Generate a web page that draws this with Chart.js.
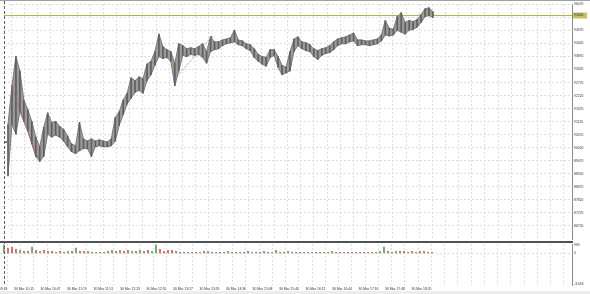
<!DOCTYPE html>
<html>
<head>
<meta charset="utf-8">
<script src="https://cdn.jsdelivr.net/npm/chart.js@4.4.1/dist/chart.umd.min.js"></script>
<style>
  html, body { margin: 0; padding: 0; background: #fff; }
  #wrap { position: relative; width: 590px; height: 294px; overflow: hidden; background: #fff; }
  #main { position: absolute; left: 0; top: 0; }
  #sub { position: absolute; left: 0; top: 243px; }
  #topline { position: absolute; left: 0; top: 0; width: 590px; height: 1px; background: #a0a0a0; }
  #sep { position: absolute; left: 0; top: 241px; width: 573px; height: 2px; background: #505050; }
  #shift { position: absolute; left: 4px; top: 1px; height: 283px; border-left: 1px dashed #606060; }
  #foot { position: absolute; left: 0; top: 291px; width: 590px; height: 3px; background: #ececec; }
</style>
</head>
<body>
<div id="wrap">
  <canvas id="main" width="590" height="243"></canvas>
  <canvas id="sub" width="590" height="51"></canvas>
  <div id="topline"></div>
  <div id="sep"></div>
  <div id="shift"></div>
  <div id="foot"></div>
</div>
<script>
// bar ranges (high / low), one entry per bar
const highs = [91000,92640,93870,93260,92030,91620,91130,90470,90060,90880,
  91490,91080,91130,90920,90800,90510,90180,90100,91080,90390,
  90300,90390,90300,90350,90300,90260,90390,91290,91540,92030,
  92320,92970,92850,93010,92930,93550,93670,94080,94820,94290,
  94160,94080,93590,94410,94330,94200,94240,94200,94290,94410,
  94080,94700,94490,94490,94570,94610,94660,94980,94570,94530,
  94410,94370,94200,93960,93870,93830,94160,94160,93870,93500,
  93420,94080,94610,94700,94490,94450,94370,94200,94120,94200,
  94240,94330,94490,94610,94660,94700,94780,94860,94570,94570,
  94530,94530,94570,94610,94780,95390,95070,95020,95560,95720,
  95310,95390,95350,95430,95640,95890,95930,95760];
const lows = [88830,91000,90590,91540,91130,90720,90180,89650,89440,89650,
  90590,90470,90550,90470,90300,90060,89850,89770,89890,89980,
  89980,89650,90060,90100,90060,90060,90100,90300,90960,91410,
  91860,92110,92360,92440,92320,92850,93100,93510,93870,93790,
  93830,93670,92640,93260,93920,93870,93960,93920,93960,93830,
  93590,94080,94160,94200,94330,94410,94450,94490,94370,94330,
  94200,94120,93830,93670,93550,93460,93830,93920,93420,93100,
  93180,93260,94080,94330,94200,94120,94080,93870,93750,93920,
  94000,94040,94160,94330,94410,94410,94490,94530,94330,94370,
  94370,94330,94370,94410,94530,94780,94740,94780,94980,94900,
  94820,94980,95020,95110,95310,95560,95600,95520];

// lower window values and direction (1 = up bar)
const volumes = [960,600,720,480,360,240,240,720,360,240,
  360,240,240,120,240,120,240,240,600,240,
  240,240,120,120,120,120,240,360,240,360,
  240,360,240,240,360,240,360,240,1000,480,
  240,360,360,240,120,120,120,120,120,120,
  240,240,120,120,120,120,240,120,120,120,
  120,240,120,120,120,240,120,120,360,120,
  120,240,120,120,120,120,120,120,120,120,
  120,120,240,120,120,120,120,120,120,120,
  120,120,120,120,240,720,240,120,240,240,
  240,120,240,120,240,240,120,120];
const volUp = [1,0,0,0,1,0,0,1,0,1,
  0,0,0,1,0,0,1,0,1,0,
  0,1,0,1,0,1,0,1,0,1,
  0,0,1,0,1,0,0,1,1,0,
  0,0,0,1,0,0,1,0,0,1,
  0,1,0,1,0,0,1,0,0,1,
  0,0,1,0,0,1,0,1,1,0,
  0,1,0,0,1,0,0,1,0,0,
  1,0,1,0,0,1,0,0,1,0,
  0,0,1,0,1,1,0,0,1,0,
  0,0,0,0,0,0,0,0];

// trades: [open bar, close bar], [open price, close price]
const tradeBars = [[2, 8.25], [43, 52.25]];
const tradePrices = [[92560, 89650], [92930, 94700]];
const lonePoint = [0.5, 90260];

const lastPrice = 95620;
const priceTicks = [96070,95520,94970,94420,93870,93320,92770,92220,91670,91120,90570,90020,89470,88920,88370,87820,87270,86720];
const subTicks = [969, 0, -3635];
const timeLabels = ['30 Mar 09:43','30 Mar 10:15','30 Mar 10:47','30 Mar 11:19','30 Mar 11:51','30 Mar 12:23','30 Mar 12:55','30 Mar 13:27','30 Mar 13:59','30 Mar 14:36','30 Mar 15:08','30 Mar 15:40','30 Mar 16:12','30 Mar 16:44','30 Mar 17:16','30 Mar 17:48','30 Mar 18:20'];

const FONT = 'Liberation Sans';
const GRID = '#dedede';

// vertical grid every half label step; labels on every other line
const gridTicks = [];
const gridLabels = [];
for (let m = -2; m <= 42; m++) {
  gridTicks.push(3.5 + 3.3125 * m);
  gridLabels.push(m % 2 === 0 && timeLabels[m / 2 + 1] ? timeLabels[m / 2 + 1] : '');
}

function xScale(showLabels) {
  return {
    type: 'linear', min: 0, max: 143, offset: false,
    afterBuildTicks: s => { s.ticks = gridTicks.map(v => ({ value: v })); },
    afterFit: s => { s.height = showLabels ? 9 : 0; s.paddingLeft = 0; s.paddingRight = 0; },
    grid: { color: GRID, lineWidth: 1, drawTicks: false },
    border: { display: false, dash: [2, 2] },
    ticks: {
      display: showLabels, autoSkip: false, maxRotation: 0, align: 'start', padding: 2,
      font: { family: FONT, size: 3.4 }, color: '#333',
      callback: (v, i) => gridLabels[i]
    }
  };
}

const priceLine = {
  id: 'priceLine',
  beforeDatasetsDraw(chart) {
    const { ctx, chartArea, scales } = chart;
    const y = Math.round(scales.y.getPixelForValue(lastPrice)) + 0.5;
    ctx.save();
    ctx.strokeStyle = '#b9b050';
    ctx.lineWidth = 1;
    ctx.beginPath();
    ctx.moveTo(chartArea.left, y);
    ctx.lineTo(chartArea.right, y);
    ctx.stroke();
    ctx.fillStyle = '#c6bf6c';
    ctx.fillRect(chartArea.right + 1, y - 3, 14, 6);
    ctx.fillStyle = '#3a3a20';
    ctx.font = '3.4px ' + FONT;
    ctx.textBaseline = 'middle';
    ctx.fillText(String(lastPrice), chartArea.right + 2, y);
    ctx.restore();
  }
};

const candles = highs.map((h, i) => ({ x: i + 1, y: [lows[i], h] }));
const highLine = highs.map((h, i) => ({ x: i + 1, y: h }));
const lowLine = lows.map((l, i) => ({ x: i + 1, y: l }));

new Chart(document.getElementById('main'), {
  data: {
    datasets: [
      {
        type: 'line',
        data: [{ x: tradeBars[0][0], y: tradePrices[0][0] }, { x: tradeBars[0][1], y: tradePrices[0][1] }],
        borderColor: '#d0504a', borderWidth: 1, borderDash: [1, 1],
        pointRadius: 1.3, pointStyle: 'rect',
        pointBackgroundColor: ['#d0504a', '#3b78c2'], pointBorderWidth: 0
      },
      {
        type: 'line',
        data: [{ x: tradeBars[1][0], y: tradePrices[1][0] }, { x: tradeBars[1][1], y: tradePrices[1][1] }],
        borderColor: '#7890b0', borderWidth: 1, borderDash: [1, 1],
        pointRadius: 1.3, pointStyle: 'rect',
        pointBackgroundColor: ['#3b78c2', '#d0504a'], pointBorderWidth: 0
      },
      {
        type: 'scatter',
        data: [{ x: lonePoint[0], y: lonePoint[1] }],
        pointRadius: 1.3, pointStyle: 'rect', backgroundColor: '#3b78c2', borderWidth: 0
      },
      {
        type: 'bar',
        data: candles,
        backgroundColor: '#5e5e5e',
        barThickness: 1
      },
      {
        type: 'line', data: lowLine, borderColor: '#7a7a7a', borderWidth: 1,
        pointRadius: 0, tension: 0, fill: false
      },
      {
        type: 'line', data: highLine, borderColor: '#7a7a7a', borderWidth: 1,
        backgroundColor: '#9a9a9a', pointRadius: 0, tension: 0, fill: '-1'
      }
    ]
  },
  options: {
    responsive: false, animation: false,
    layout: { padding: { top: 1, left: 0, right: 0, bottom: 0 } },
    plugins: { legend: { display: false }, tooltip: { enabled: false }, filler: { drawTime: 'beforeDatasetsDraw' } },
    scales: {
      x: xScale(false),
      y: {
        position: 'right', min: 86160, max: 96090,
        afterBuildTicks: s => { s.ticks = priceTicks.map(v => ({ value: v })); },
        afterFit: s => { s.width = 18; s.paddingTop = 0; s.paddingBottom = 0; },
        grid: { color: GRID, drawTicks: false },
        border: { display: true, color: '#8a8a8a', width: 1, dash: [2, 2] },
        ticks: { padding: 2, font: { family: FONT, size: 3.4 }, color: '#333', callback: v => String(v) }
      }
    }
  },
  plugins: [priceLine]
});

new Chart(document.getElementById('sub'), {
  type: 'bar',
  data: {
    datasets: [{
      data: volumes.map((v, i) => ({ x: i + 1, y: v })),
      backgroundColor: volUp.map(u => u ? '#5c9e5c' : '#c25a55'),
      barThickness: 1
    }]
  },
  options: {
    responsive: false, animation: false,
    layout: { padding: { top: 1, left: 0, right: 0, bottom: 0 } },
    plugins: { legend: { display: false }, tooltip: { enabled: false } },
    scales: {
      x: xScale(true),
      y: {
        position: 'right', min: -3700, max: 1090,
        afterBuildTicks: s => { s.ticks = subTicks.map(v => ({ value: v })); },
        afterFit: s => { s.width = 18; s.paddingTop = 0; s.paddingBottom = 0; },
        grid: { color: c => c.tick && c.tick.value === 0 ? GRID : 'rgba(0,0,0,0)', drawTicks: false },
        border: { display: true, color: '#8a8a8a', width: 1, dash: [2, 2] },
        ticks: { padding: 2, font: { family: FONT, size: 3.4 }, color: '#333' }
      }
    }
  }
});
</script>
</body>
</html>
